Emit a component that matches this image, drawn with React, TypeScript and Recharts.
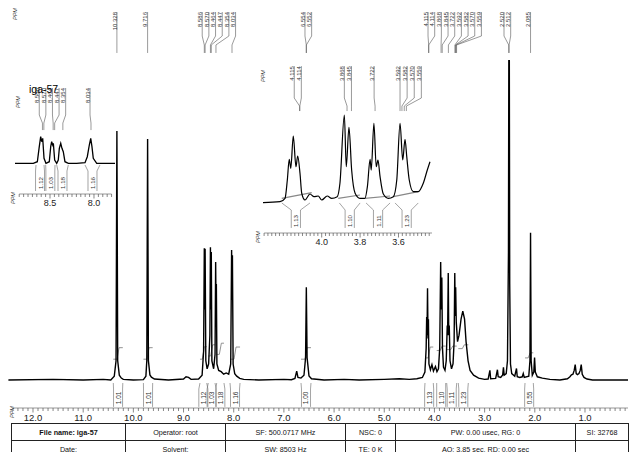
import React from 'react'
import { LineChart, Line, XAxis, YAxis, ReferenceLine, ReferenceDot } from 'recharts'

const FONT = '"Liberation Sans", Arial, Helvetica, sans-serif'

// ---- main spectrum: chemical shift (ppm) and relative intensity (solvent line = 100) ----
const MAIN_PPM = [
  12.49, 11.6, 11.0, 10.6,
  10.45, 10.38, 10.345, 10.328, 10.312, 10.28, 10.24, 10.2,
  10.0, 9.8, 9.75, 9.732, 9.716, 9.7, 9.67, 9.64, 9.58,
  9.3, 9.0, 8.95, 8.9, 8.85,
  8.7, 8.63, 8.6, 8.586, 8.578, 8.57, 8.556,
  8.53, 8.5, 8.475, 8.464, 8.456, 8.447, 8.435,
  8.4, 8.372, 8.36, 8.352, 8.346, 8.335,
  8.3, 8.25, 8.2, 8.15, 8.1,
  8.06, 8.042, 8.033, 8.026, 8.012, 7.98, 7.94, 7.88, 7.8,
  7.5, 7.0, 6.85,
  6.78, 6.745, 6.72, 6.66, 6.6, 6.568, 6.553, 6.538, 6.5, 6.45,
  6.2, 5.8, 5.5, 5.0, 4.7, 4.5, 4.35,
  4.24, 4.19, 4.165, 4.155, 4.148, 4.138, 4.128, 4.12, 4.11,
  4.08, 4.05, 4.02, 3.98, 3.95, 3.92,
  3.895, 3.876, 3.866, 3.853, 3.84, 3.82, 3.79,
  3.765, 3.745, 3.738, 3.725, 3.715, 3.705, 3.69, 3.66, 3.63,
  3.608, 3.595, 3.585, 3.577, 3.565, 3.54, 3.51, 3.47, 3.435, 3.4, 3.37, 3.33, 3.29, 3.22, 3.12, 3.0,
  2.93, 2.895, 2.88, 2.78, 2.745, 2.73, 2.68, 2.64, 2.625, 2.61, 2.57,
  2.545, 2.525, 2.518, 2.508, 2.5, 2.485, 2.46,
  2.4, 2.365, 2.35, 2.3, 2.25, 2.23, 2.21,
  2.12, 2.097, 2.085, 2.073, 2.05, 2.02, 2.005, 1.99, 1.95, 1.85, 1.7, 1.5,
  1.35, 1.3, 1.27, 1.24, 1.215, 1.195, 1.175, 1.15, 1.12, 1.095, 1.075, 1.055, 1.02, 0.96, 0.85, 0.143,
]
const MAIN_INT = [
  0, 0.2, 0, 0.2,
  0, 1.2, 6, 77.8, 6, 1.5, 0.6, 0.2,
  0, 0.1, 1.2, 6, 75.3, 6, 1.6, 0.9, 0.3,
  0, 0.3, 1.0, 0.8, 0.2,
  0.3, 1.5, 9, 41.2, 22, 41, 6,
  3.5, 5, 14, 41.5, 22, 40, 6,
  3.5, 8, 36.9, 22, 30, 5,
  3, 2.6, 1.8, 2.2, 1.8,
  5, 40.6, 25, 39, 5, 2, 1.2, 0.5, 0.2,
  0, 0.2, 0.1,
  0.5, 2.8, 0.8, 0.6, 1.5, 7, 29, 7, 1.3, 0.4,
  0, 0.2, 0, 0.2, 0.4, 0.2, 0.4,
  0.8, 2.5, 10, 19.7, 14, 28.7, 13, 19, 5,
  3.2, 4.8, 2.8, 4.2, 2.6, 3.5,
  10, 36.9, 22, 32, 10, 4, 3,
  6, 17, 14, 33.4, 14, 17, 6, 3.5, 5,
  12, 33.4, 20, 29, 18, 12, 14, 19, 21.5, 19, 12, 6, 3, 1.5, 0.6, 0.2,
  0.3, 3, 0.4, 0.5, 3.2, 1, 0.8, 1.6, 4, 1.5, 2,
  6, 40, 100, 100, 30, 5, 2,
  1.2, 3.6, 1, 0.8, 1, 2, 0.8,
  1.2, 6, 46, 6, 1.5, 2.5, 7, 2.5, 1, 0.6, 0.2, 0,
  0.4, 1, 1.6, 1.8, 3, 4.8, 2, 1.7, 2, 3, 4.8, 1.8, 0.8, 0.3, 0, 0,
]
const MAIN_TICK_LABELS = ['12.0', '11.0', '10.0', '9.0', '8.0', '7.0', '6.0', '5.0', '4.0', '3.0', '2.0', '1.0']
const MAIN_PEAK_GROUPS = [
  ['10.328'],
  ['9.716'],
  ['8.586', '8.570', '8.464', '8.447', '8.354', '8.034'],
  ['6.554', '6.552'],
  ['4.115', '4.114', '3.868', '3.845', '3.722', '3.592', '3.582', '3.570', '3.559'],
  ['2.520', '2.512'],
  ['2.085'],
]
const MAIN_INTEGRALS = ['1.01', '1.01', '1.12', '1.03', '1.18', '1.16', '1.00', '1.13', '1.10', '1.11', '1.23', '0.55']
const MAIN_INTEGRAL_FROM = [10.4, 9.8, 8.672, 8.507, 8.339, 8.074, 6.659, 4.188, 3.955, 3.756, 3.525, 2.195]
const MAIN_INTEGRAL_TO = [10.21, 9.615, 8.538, 8.373, 8.194, 7.874, 6.46, 4.023, 3.776, 3.556, 3.325, 2.03]
const MAIN_INTEGRAL_LO = [6.5, 6.5, 6.5, 7.5, 8, 6.5, 6.5, 6.9, 9.2, 9.5, 9.8, 6.9]
const MAIN_INTEGRAL_HI = [10.1, 10.1, 10.4, 11, 11.5, 10.3, 10.1, 10.3, 10.6, 10.6, 11.0, 8.5]

// ---- inset 1: aromatic region ----
const INSET1_PPM = [8.898, 8.69, 8.644, 8.622, 8.606, 8.594, 8.583, 8.568, 8.546, 8.508, 8.492, 8.481, 8.469, 8.462, 8.447, 8.424, 8.406, 8.394, 8.378, 8.364, 8.349, 8.33, 8.292, 8.197, 8.102, 8.076, 8.053, 8.037, 8.023, 8.008, 7.969, 7.761]
const INSET1_INT = [-1.1, -1.1, 4.8, 60.4, 97.4, 78.9, 91.5, 17.4, -1.1, 4.8, 60.4, 78.9, 66.7, 73, 11.1, -1.1, 11.1, 54.4, 73, 54.4, 41.9, 4.8, -1.1, -1.1, 1.1, 23.3, 66.7, 91.5, 60.4, 17.4, -1.1, -1.1]
const INSET1_TICK_LABELS = ['8.5', '8.0']
const INSET1_PEAK_GROUPS = [['8.586', '8.570', '8.464', '8.447', '8.354'], ['8.034']]
const INSET1_INTEGRALS = ['1.12', '1.03', '1.18', '1.16']
const INSET1_INTEGRAL_FROM = [8.659, 8.549, 8.424, 8.102]
const INSET1_INTEGRAL_TO = [8.568, 8.443, 8.292, 7.932]

// ---- inset 2: 4.3 - 3.4 ppm ----
const INSET2_PPM = [4.321, 4.217, 4.191, 4.179, 4.169, 4.161, 4.148, 4.134, 4.125, 4.113, 4.104, 4.087, 4.061, 4.04, 4.018, 4.0, 3.971, 3.948, 3.919, 3.905, 3.882, 3.872, 3.858, 3.844, 3.826, 3.801, 3.775, 3.762, 3.748, 3.742, 3.728, 3.716, 3.707, 3.696, 3.679, 3.653, 3.627, 3.609, 3.592, 3.578, 3.566, 3.557, 3.544, 3.523, 3.497, 3.471, 3.45, 3.436]
const INSET2_INT = [-5.7, -4.5, -0.4, 21.7, 46.6, 35.8, 74.7, 37.7, 50.6, 29.8, 5.7, -2.4, 4.8, 1.6, 2.4, -2.4, 2.4, -0.4, 1.6, 17.7, 100, 37.7, 85.2, 33.7, 5.7, -0.4, -0.4, 13.6, 46.6, 33.7, 90, 37.7, 45.8, 25.7, 4.8, -0.4, 1.6, 21.7, 90, 45.8, 70.7, 49.8, 21.7, 7.6, 7.6, 17.7, 33.7, 43.7]
const INSET2_TICK_LABELS = ['4.0', '3.8', '3.6']
const INSET2_PEAK_GROUPS = [['4.115', '4.114'], ['3.868', '3.845'], ['3.722'], ['3.592', '3.582', '3.570', '3.559']]
const INSET2_INTEGRALS = ['1.13', '1.10', '1.11', '1.23']
const INSET2_INTEGRAL_FROM = [4.208, 3.908, 3.769, 3.618]
const INSET2_INTEGRAL_TO = [4.061, 3.8, 3.644, 3.497]
const INSET2_GRAY_FROM = [4.208, 3.914, 3.775, 3.627]
const INSET2_GRAY_TO = [4.052, 3.801, 3.644, 3.497]
const INSET2_GRAY_LO = [-0.4, -0.4, -0.4, 1.6]
const INSET2_GRAY_HI = [6.4, 3.6, 2.4, 7.6]

// ---- acquisition table ----
const INFO_ROW_1 = ['File name: iga-57', 'Operator: root', 'SF: 500.0717 MHz', 'NSC: 0', 'PW: 0.00 usec, RG: 0', 'SI: 32768']
const INFO_ROW_2 = ['Date:', 'Solvent:', 'SW: 8503 Hz', 'TE: 0 K', 'AQ: 3.85 sec, RD: 0.00 sec', '']
const COL_W = [114, 100, 120, 50, 180, 53]

type Pt = { ppm: number; v: number | null }
const zip = (p: number[], v: number[]): Pt[] => p.map((x, i) => ({ ppm: x, v: v[i] }))

const mainData = zip(MAIN_PPM, MAIN_INT)
const inset1Data = zip(INSET1_PPM, INSET1_INT)
const inset2Data = zip(INSET2_PPM, INSET2_INT)

const mainIntegralData: Pt[] = []
MAIN_INTEGRALS.forEach((_, i) => {
  const c = (MAIN_INTEGRAL_FROM[i] + MAIN_INTEGRAL_TO[i]) / 2
  mainIntegralData.push(
    { ppm: MAIN_INTEGRAL_FROM[i], v: MAIN_INTEGRAL_LO[i] },
    { ppm: c + 0.02, v: MAIN_INTEGRAL_LO[i] },
    { ppm: c - 0.02, v: MAIN_INTEGRAL_HI[i] },
    { ppm: MAIN_INTEGRAL_TO[i], v: MAIN_INTEGRAL_HI[i] },
    { ppm: MAIN_INTEGRAL_TO[i] - 0.001, v: null },
  )
})
const inset2GrayData: Pt[] = []
INSET2_GRAY_FROM.forEach((f, i) => {
  inset2GrayData.push(
    { ppm: f, v: INSET2_GRAY_LO[i] },
    { ppm: INSET2_GRAY_TO[i], v: INSET2_GRAY_HI[i] },
    { ppm: INSET2_GRAY_TO[i] - 0.001, v: null },
  )
})

// ruler tick positions
const MAIN_TICKS = Array.from({ length: 123 }, (_, i) => (124 - i) / 10)
const INSET1_TICKS = Array.from({ length: 22 }, (_, i) => ((177 - i) * 5) / 100)
const INSET2_TICKS = Array.from({ length: 44 }, (_, i) => ((215 - i) * 2) / 100)

function RulerTick(props: any) {
  const { x, y, payload, labels, size, gap } = props
  const lab = labels.find((l: string) => Math.abs(parseFloat(l) - payload.value) < 1e-6)
  return (
    <g>
      <line x1={x} x2={x} y1={y} y2={y + (lab ? 4.5 : 3)} stroke="#555" strokeWidth={0.7} />
      {lab && (
        <text x={x} y={y + gap} textAnchor="middle" dominantBaseline="central" fontSize={size} fill="#222" fontFamily={FONT}>
          {lab}
        </text>
      )}
    </g>
  )
}

function VText({ cx, cy, text, size, anchor, shift }: any) {
  return (
    <text x={cx} y={cy} dy={shift} transform={`rotate(-90 ${cx} ${cy})`} textAnchor={anchor}
      dominantBaseline="central" fontSize={size} fill="#333" fontFamily={FONT}>
      {text}
    </text>
  )
}

const seg = (key: string, a: number[], b: number[], color = '#555') => (
  <ReferenceLine key={key} segment={[{ x: a[0], y: a[1] }, { x: b[0], y: b[1] }]}
    stroke={color} strokeWidth={0.6} ifOverflow="visible" />
)

// peak pick labels: vertical text, line bent down to the peak
function peakLabels(id: string, groups: string[][], offsets: number[], spacing: number, lv: number[], size: number) {
  const [top, k1, k2, bot] = lv
  const out: React.ReactNode[] = []
  groups.forEach((g, gi) => {
    const start = parseFloat(g[0]) + offsets[gi]
    g.forEach((lab, i) => {
      const peak = parseFloat(lab)
      const lx = start - i * spacing
      const k = `${id}-${gi}-${i}`
      out.push(seg(k + 'a', [lx, top], [lx, k1]), seg(k + 'b', [lx, k1], [peak, k2]), seg(k + 'c', [peak, k2], [peak, bot]))
      out.push(
        <ReferenceDot key={k + 't'} x={lx} y={top} r={1} ifOverflow="visible"
          shape={(p: any) => <VText cx={p.cx} cy={p.cy} text={lab} size={size} anchor="end" shift={-2.3} />} />,
      )
    })
  })
  return out
}

// integral brackets under the baseline
function integrals(id: string, values: string[], from: number[], to: number[], half: number, lv: number[], size: number) {
  const [base, knee, bot, mid] = lv
  const out: React.ReactNode[] = []
  values.forEach((val, i) => {
    const c = (from[i] + to[i]) / 2
    const k = `${id}-${i}`
    out.push(
      seg(k + 'a', [from[i], base], [c + half, knee], '#666'),
      seg(k + 'b', [c + half, knee], [c + half, bot], '#666'),
      seg(k + 'c', [to[i], base], [c - half, knee], '#666'),
      seg(k + 'd', [c - half, knee], [c - half, bot], '#666'),
      <ReferenceDot key={k + 't'} x={c} y={mid} r={1} ifOverflow="visible"
        shape={(p: any) => <VText cx={p.cx} cy={p.cy} text={val} size={size} anchor="middle" shift={0} />} />,
    )
  })
  return out
}

function PPM({ x, y }: { x: number; y: number }) {
  return (
    <text x={x} y={y} transform={`rotate(-90 ${x} ${y})`} textAnchor="middle" dominantBaseline="central"
      fontSize={5.5} fontStyle="italic" fill="#333" fontFamily={FONT}>
      PPM
    </text>
  )
}

export default function App() {
  const cell = { border: '1px solid #222', textAlign: 'center' as const, padding: 0, whiteSpace: 'nowrap' as const }
  return (
    <div style={{ position: 'absolute', left: 0, top: 0, width: 631, height: 452, overflow: 'hidden', background: '#fff', fontFamily: FONT }}>
      {/* main spectrum */}
      <div style={{ position: 'absolute', left: 0, top: 0 }}>
        <LineChart width={631} height={452} data={mainData} margin={{ top: 60, right: 3, bottom: 30, left: 8 }}>
          <XAxis dataKey="ppm" type="number" domain={[0.143, 12.498]} reversed allowDataOverflow ticks={MAIN_TICKS}
            interval={0} tickSize={0} tickMargin={0} axisLine={false} tickLine={false} height={14}
            tick={<RulerTick labels={MAIN_TICK_LABELS} size={9.5} gap={9} />} />
          <YAxis hide type="number" domain={[-8.75, 100]} allowDataOverflow />
          {seg('ruler', [12.4, -8.75], [0.143, -8.75], '#555')}
          <Line data={mainIntegralData} dataKey="v" type="linear" stroke="#777" strokeWidth={0.8} dot={false}
            connectNulls={false} isAnimationActive={false} />
          <Line dataKey="v" type="linear" stroke="#000" strokeWidth={1.4} dot={false} isAnimationActive={false} />
          {peakLabels('mp', MAIN_PEAK_GROUPS, [0, 0, 0.042, 0.026, 0.013, 0.094, 0], 0.133, [115, 107.5, 104.7, 102.2], 6)}
          {integrals('mi', MAIN_INTEGRALS, MAIN_INTEGRAL_FROM, MAIN_INTEGRAL_TO, 0.09, [-0.94, -2.8, -8.4, -5.6], 6.5)}
        </LineChart>
      </div>

      {/* inset 1 */}
      <div style={{ position: 'absolute', left: 8, top: 80 }}>
        <LineChart width={112} height={135} data={inset1Data} margin={{ top: 40, right: 5, bottom: 11, left: 7 }}>
          <XAxis dataKey="ppm" type="number" domain={[7.761, 8.898]} reversed allowDataOverflow ticks={INSET1_TICKS}
            interval={0} tickSize={0} tickMargin={0} axisLine={false} tickLine={false} height={10}
            tick={<RulerTick labels={INSET1_TICK_LABELS} size={9} gap={8.5} />} />
          <YAxis hide type="number" domain={[-114.8, 159.3]} allowDataOverflow />
          {seg('ruler1', [8.85, -114.8], [7.8, -114.8], '#555')}
          <Line dataKey="v" type="linear" stroke="#000" strokeWidth={1.3} dot={false} isAnimationActive={false} />
          {peakLabels('ip1', INSET1_PEAK_GROUPS, [0.036, 0.011], 0.075, [277.8, 177.8, 148, 122], 6)}
          {integrals('ii1', INSET1_INTEGRALS, INSET1_INTEGRAL_FROM, INSET1_INTEGRAL_TO, 0.051, [-7.4, -29.6, -103.7, -74], 6.2)}
        </LineChart>
      </div>

      {/* inset 2 */}
      <div style={{ position: 'absolute', left: 255, top: 58 }}>
        <LineChart width={185} height={192} data={inset2Data} margin={{ top: 42, right: 8, bottom: 9, left: 8 }}>
          <XAxis dataKey="ppm" type="number" domain={[3.4255, 4.3057]} reversed allowDataOverflow ticks={INSET2_TICKS}
            interval={0} tickSize={0} tickMargin={0} axisLine={false} tickLine={false} height={8}
            tick={<RulerTick labels={INSET2_TICK_LABELS} size={9} gap={9} />} />
          <YAxis hide type="number" domain={[-42.2, 118.1]} allowDataOverflow />
          {seg('ruler2', [4.3, -42.2], [3.4255, -42.2], '#555')}
          <Line data={inset2GrayData} dataKey="v" type="linear" stroke="#888" strokeWidth={1.2} dot={false}
            connectNulls={false} isAnimationActive={false} />
          <Line dataKey="v" type="monotone" stroke="#000" strokeWidth={1.2} dot={false} isAnimationActive={false} />
          {peakLabels('ip2', INSET2_PEAK_GROUPS, [0.028, 0.014, 0.005, 0], 0.037, [159, 120.5, 110.8, 104.8], 6)}
          {integrals('ii2', INSET2_INTEGRALS, INSET2_INTEGRAL_FROM, INSET2_INTEGRAL_TO, 0.024, [-6, -14.5, -36.1, -27.7], 6.2)}
        </LineChart>
      </div>

      {/* static captions */}
      <svg width={631} height={452} style={{ position: 'absolute', left: 0, top: 0 }}>
        <PPM x={15} y={14} />
        <PPM x={12} y={412} />
        <PPM x={18} y={102} />
        <PPM x={13} y={198} />
        <PPM x={263} y={76} />
        <PPM x={258} y={237} />
        <text x={29} y={93} fontSize={10.5} fill="#000" fontFamily={FONT}>iga-57</text>
      </svg>

      {/* acquisition parameters */}
      <table style={{ position: 'absolute', left: 11, top: 423, width: 617, borderCollapse: 'collapse', tableLayout: 'fixed', fontSize: 7.2, color: '#111', fontFamily: FONT }}>
        <colgroup>
          {COL_W.map((w, i) => <col key={i} style={{ width: w }} />)}
        </colgroup>
        <tbody>
          <tr style={{ height: 17 }}>
            {INFO_ROW_1.map((t, i) => <td key={i} style={{ ...cell, fontWeight: i === 0 ? 'bold' : 'normal' }}>{t}</td>)}
          </tr>
          <tr style={{ height: 17 }}>
            {INFO_ROW_2.map((t, i) => <td key={i} style={cell}>{t}</td>)}
          </tr>
        </tbody>
      </table>
    </div>
  )
}
